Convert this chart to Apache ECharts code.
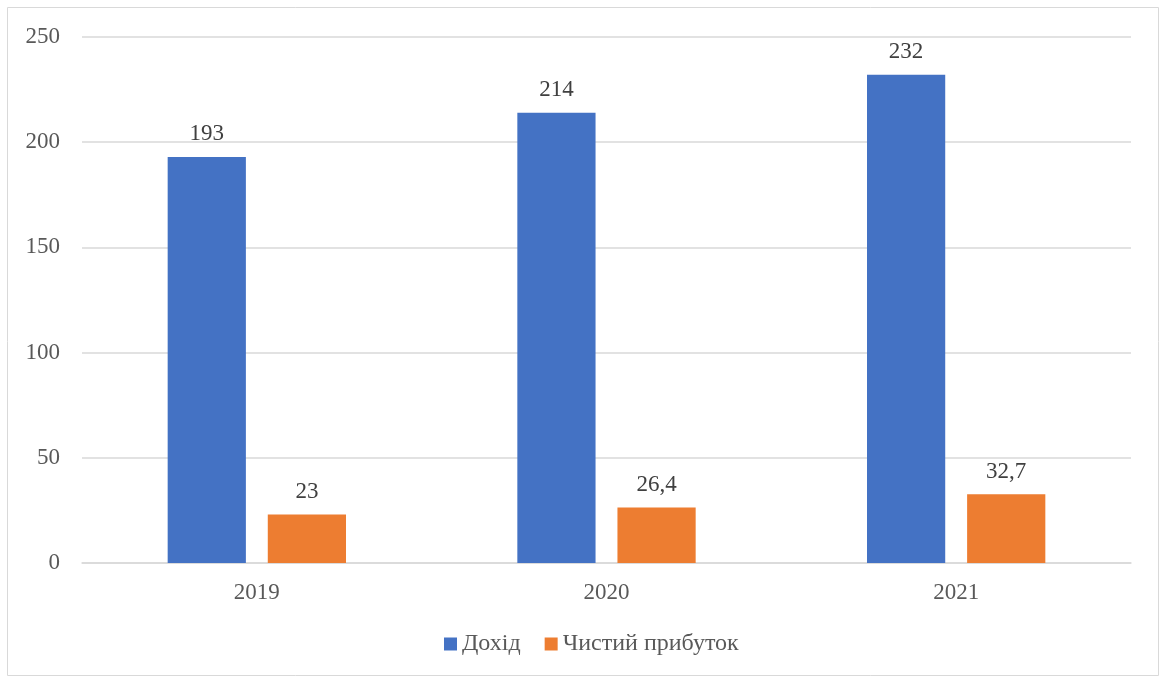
<!DOCTYPE html>
<html><head><meta charset="utf-8">
<script src="https://cdn.jsdelivr.net/npm/echarts@6/dist/echarts.min.js"></script>
<style>html,body{margin:0;padding:0;background:#fff}#c{width:1159px;height:677px}</style>
</head><body><div id="c"></div>
<script>
const categories = ['2019', '2020', '2021'];
const revenue = [193, 214, 232];
const netProfit = [23, 26.4, 32.7];
const seriesNames = ['Дохід', 'Чистий прибуток'];
const yTicks = { min: 0, max: 250, interval: 50 };

const font = '"Liberation Serif", "Times New Roman", serif';
const chart = echarts.init(document.getElementById('c'));
const labelCfg = {
  show: true, position: 'top', distance: 11,
  fontFamily: font, fontSize: 23, color: '#404040',
  formatter: p => String(p.value).replace('.', ',')
};
chart.setOption({
  animation: false,
  graphic: [{ type: 'rect', shape: { x: 7.5, y: 7.5, width: 1151, height: 668 },
    style: { fill: 'none', stroke: '#d9d9d9', lineWidth: 1 } }],
  grid: { left: 82, right: 28, top: 37, bottom: 114 },
  legend: {
    bottom: 16, left: 439, itemWidth: 13, itemHeight: 13, itemGap: 24,
    icon: 'rect',
    textStyle: { fontFamily: font, fontSize: 24, color: '#595959' },
    data: seriesNames
  },
  xAxis: {
    type: 'category', data: categories,
    axisLine: { lineStyle: { color: '#d9d9d9', width: 1.5 } },
    axisTick: { show: false },
    axisLabel: { fontFamily: font, fontSize: 23, color: '#595959', margin: 18 }
  },
  yAxis: {
    type: 'value', min: yTicks.min, max: yTicks.max, interval: yTicks.interval,
    axisLine: { show: false }, axisTick: { show: false },
    splitLine: { lineStyle: { color: '#d9d9d9', width: 1.5 } },
    axisLabel: { fontFamily: font, fontSize: 23, color: '#595959', margin: 22 }
  },
  series: [
    { name: seriesNames[0], type: 'bar', data: revenue, itemStyle: { color: '#4472c4' },
      barGap: '28%', barCategoryGap: '49%', label: labelCfg },
    { name: seriesNames[1], type: 'bar', data: netProfit, itemStyle: { color: '#ed7d31' },
      label: labelCfg }
  ]
});
</script></body></html>
